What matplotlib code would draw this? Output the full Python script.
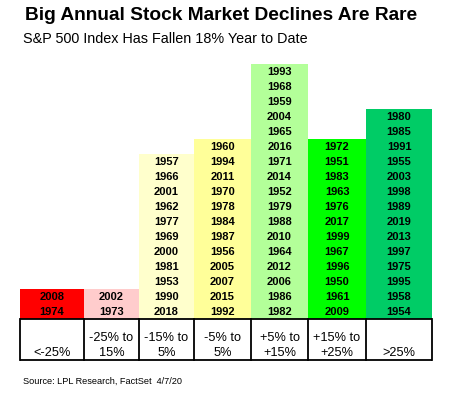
import matplotlib
matplotlib.use('Agg')
import matplotlib.pyplot as plt

plt.rcParams['font.family'] = ['Liberation Sans', 'DejaVu Sans']

# ---- data ----
categories = ["<-25%", "-25% to\n15%", "-15% to\n5%", "-5% to\n5%",
              "+5% to\n+15%", "+15% to\n+25%", ">25%"]
years_m25 = [2008, 1974]
years_m25_m15 = [2002, 1973]
years_m15_m5 = [1957, 1966, 2001, 1962, 1977, 1969, 2000, 1981, 1953, 1990, 2018]
years_m5_p5 = [1960, 1994, 2011, 1970, 1978, 1984, 1987, 1956, 2005, 2007, 2015, 1992]
years_p5_p15 = [1993, 1968, 1959, 2004, 1965, 2016, 1971, 2014, 1952, 1979, 1988,
                2010, 1964, 2012, 2006, 1986, 1982]
years_p15_p25 = [1972, 1951, 1983, 1963, 1976, 2017, 1999, 1967, 1996, 1950, 1961, 2009]
years_p25 = [1980, 1985, 1991, 1955, 2003, 1998, 1989, 2019, 2013, 1997, 1975, 1995,
             1958, 1954]
year_lists = [years_m25, years_m25_m15, years_m15_m5, years_m5_p5,
              years_p5_p15, years_p15_p25, years_p25]

title = "Big Annual Stock Market Declines Are Rare"
subtitle = "S&P 500 Index Has Fallen 18% Year to Date"
source = "Source: LPL Research, FactSet  4/7/20"

# ---- style / layout ----
colors = ['#FF0000', '#FFCCCC', '#FFFFCC', '#FFFF99', '#B3FF99', '#00FF00', '#00CC66']
col_edges = [20, 84, 139, 194, 251, 308, 366, 432]
row_h = 15
base = 319
box_bottom = 360

W, H = 454, 393
fig = plt.figure(figsize=(W / 100, H / 100), dpi=100)
ax = fig.add_axes([0, 0, 1, 1])
ax.set_xlim(0, W)
ax.set_ylim(H, 0)
ax.axis('off')

lefts = col_edges[:-1]
widths = [col_edges[i + 1] - col_edges[i] for i in range(len(lefts))]
heights = [-row_h * len(ys) for ys in year_lists]
ax.bar(lefts, heights, width=widths, bottom=base, align='edge',
       color=colors, edgecolor='none', linewidth=0)

for left, w, ys in zip(lefts, widths, year_lists):
    cx = left + w / 2
    for i, y in enumerate(reversed(ys)):
        ax.text(cx, base - row_h * (i + 0.5) + 0.5, str(y), ha='center', va='center',
                fontsize=8, fontweight='bold', color='black')

# label box
lw = 1.3
ax.plot([col_edges[0], col_edges[-1]], [base, base], color='black', lw=lw,
        solid_capstyle='butt')
ax.plot([col_edges[0], col_edges[-1]], [box_bottom, box_bottom], color='black', lw=lw,
        solid_capstyle='butt')
for x in col_edges:
    ax.plot([x, x], [base, box_bottom], color='black', lw=lw, solid_capstyle='projecting')

for left, w, lab in zip(lefts, widths, categories):
    ax.text(left + w / 2, box_bottom - 1, lab, ha='center', va='bottom',
            fontsize=9.2, linespacing=1.35, color='black')

ax.text(25, 15, title, ha='left', va='center', fontsize=13.8, fontweight='bold')
ax.text(23, 39, subtitle, ha='left', va='center', fontsize=10.4)
ax.text(23, 381, source, ha='left', va='center', fontsize=6.6)

fig.savefig('out.png', dpi=100)
